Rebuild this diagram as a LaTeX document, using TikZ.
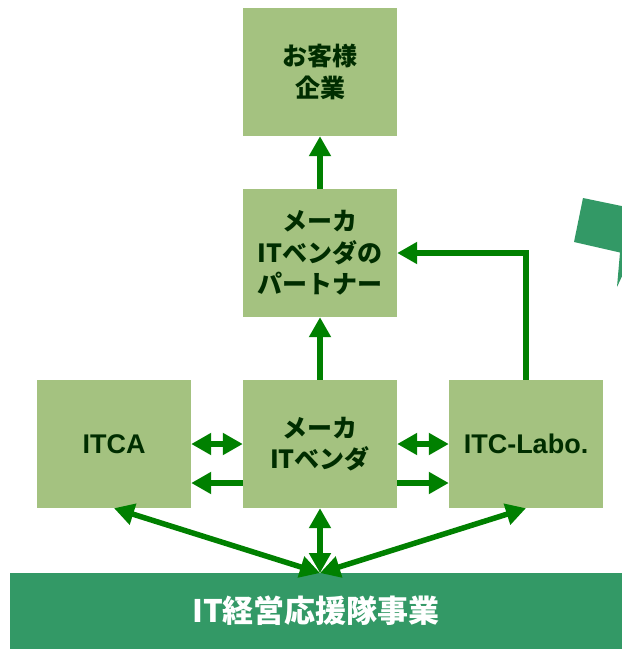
\documentclass[tikz,border=0pt]{standalone}
\usepackage{fontspec}
\setmainfont{Liberation Sans}
\newfontfamily\jp{Noto Sans CJK JP}
\usetikzlibrary{arrows.meta}
\definecolor{boxfill}{RGB}{164,194,128}
\definecolor{bardark}{RGB}{51,153,102}
\definecolor{arrowgreen}{RGB}{0,128,0}
\definecolor{txtdark}{RGB}{0,45,0}
\tikzset{
  gbox/.style={fill=boxfill, minimum width=154pt, minimum height=128pt, inner sep=0pt, align=center, text=txtdark},
  jptext/.style={font=\jp\bfseries\fontsize{25}{31.5}\selectfont},
  lattext/.style={font=\bfseries\fontsize{27}{30}\selectfont},
  garrow/.style={draw=arrowgreen, line width=5.5pt, -{Triangle[length=20pt,width=21pt]}},
  gdarrow/.style={draw=arrowgreen, line width=5.5pt, {Triangle[length=20pt,width=21pt]}-{Triangle[length=20pt,width=21pt]}},
}
\begin{document}
\begin{tikzpicture}[x=1pt,y=-1pt]
\useasboundingbox (0,0) rectangle (622,649);
\clip (0,0) rectangle (622,649);
% callout fragment at right
\fill[bardark] (583,198) -- (624,206.5) -- (624,272) -- (617,287) -- (620,252.5) -- (574,242) -- cycle;
% boxes
\node[gbox, jptext] (t) at (320,72) {お客様\\企業};
\node[gbox, jptext] (m) at (320,253) {メーカ\\ITベンダの\\パートナー};
\node[gbox, lattext] (a) at (114,444) {ITCA};
\node[gbox, jptext] (c) at (320,444) {メーカ\\ITベンダ};
\node[gbox, lattext] (l) at (526,444) {ITC-Labo.};
\node[fill=bardark, minimum width=612pt, minimum height=76pt, inner sep=0pt, text=white, font=\jp\bfseries\fontsize{31}{34}\selectfont] (bar) at (316,611) {IT経営応援隊事業};
\coordinate (hub) at (320,573);
% arrows
\draw[garrow] (m.north) -- (t.south);
\draw[garrow] (c.north) -- (m.south);
\draw[garrow] (l.north) |- (m.east);
\draw[gdarrow] (a.east) -- (c.west);
\draw[gdarrow] (c.east) -- (l.west);
\draw[garrow] ([yshift=-39pt]c.west) -- ([yshift=-39pt]a.east);
\draw[garrow] ([yshift=-39pt]c.east) -- ([yshift=-39pt]l.west);
\draw[gdarrow] (a.south) -- (hub);
\draw[gdarrow] (l.south) -- (hub);
\draw[gdarrow] (c.south) -- (hub);
\end{tikzpicture}
\end{document}
